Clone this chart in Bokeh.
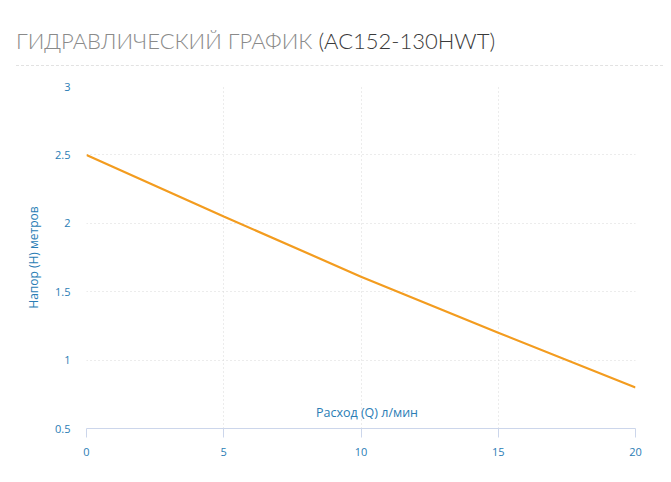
from bokeh.plotting import figure
from bokeh.models import Div, Label, FixedTicker, Range1d
from bokeh.layouts import column
from bokeh.embed import file_html
from bokeh.resources import INLINE

# Data
flow_lpm = [0, 5, 10, 15, 20]
head_m = [2.5, 2.05, 1.61, 1.2, 0.8]
x_ticks = [0, 5, 10, 15, 20]
y_ticks = [0.5, 1, 1.5, 2, 2.5, 3]
title_main = "ГИДРАВЛИЧЕСКИЙ ГРАФИК"
title_model = "(AC152-130HWT)"
x_label = "Расход (Q) л/мин"
y_label = "Напор (H) метров"

FONT = "Open Sans"
TICK_COLOR = "#2a7db5"

header = Div(
    text=(
        f'<div style="font-family:Lato, \'Open Sans\', sans-serif; font-weight:300; font-size:22px; '
        f'padding:29px 0 0 16px; white-space:nowrap; line-height:24px;">'
        f'<span style="color:#8a8a8a">{title_main}</span> '
        f'<span style="color:#3a3a3a">{title_model}</span></div>'
        f'<div style="margin:12px 0 0 16px; width:647px; border-top:1px dashed #e2e2e2;"></div>'
    ),
    width=663, height=78, margin=(0, 0, 0, 0),
)

p = figure(
    width=663, height=396, output_backend="svg", toolbar_location=None,
    x_range=Range1d(0, 20), y_range=Range1d(0.5, 3),
    min_border_left=86, min_border_right=28, min_border_top=8, min_border_bottom=46,
    margin=(0, 0, 0, 0),
)
p.outline_line_color = None
p.background_fill_color = "white"

p.line(flow_lpm, head_m, line_color="#f39c1f", line_width=2.2)

# X axis
xa = p.xaxis[0]
xa.ticker = FixedTicker(ticks=x_ticks)
xa.axis_line_color = "#ccd6eb"
xa.major_tick_line_color = "#ccd6eb"
xa.major_tick_out = 9
xa.major_tick_in = 0
xa.minor_tick_line_color = None
xa.major_label_text_color = TICK_COLOR
xa.major_label_text_font = FONT
xa.major_label_text_font_size = "11px"
xa.major_label_standoff = 10

# Y axis
ya = p.yaxis[0]
ya.ticker = FixedTicker(ticks=y_ticks)
ya.axis_line_color = None
ya.major_tick_line_color = None
ya.minor_tick_line_color = None
ya.major_tick_out = 0
ya.major_tick_in = 0
ya.major_label_text_color = TICK_COLOR
ya.major_label_text_font = FONT
ya.major_label_text_font_size = "11px"
ya.major_label_standoff = 16
ya.axis_label = y_label
ya.axis_label_text_color = TICK_COLOR
ya.axis_label_text_font = FONT
ya.axis_label_text_font_size = "12px"
ya.axis_label_text_font_style = "normal"
ya.axis_label_standoff = 10

for g in (p.xgrid[0], p.ygrid[0]):
    g.grid_line_color = "#d8d8d8"
    g.grid_line_dash = "1 3"
    g.grid_line_width = 1
p.xgrid[0].ticker = FixedTicker(ticks=x_ticks)
p.ygrid[0].ticker = FixedTicker(ticks=y_ticks)

p.add_layout(Label(
    x=10, y=0.5, x_offset=6, y_offset=8, text=x_label,
    text_align="center", text_baseline="bottom",
    text_color=TICK_COLOR, text_font=FONT, text_font_size="12.5px",
))

layout = column(header, p, spacing=0)
open("out.html", "w").write(file_html(layout, INLINE))
